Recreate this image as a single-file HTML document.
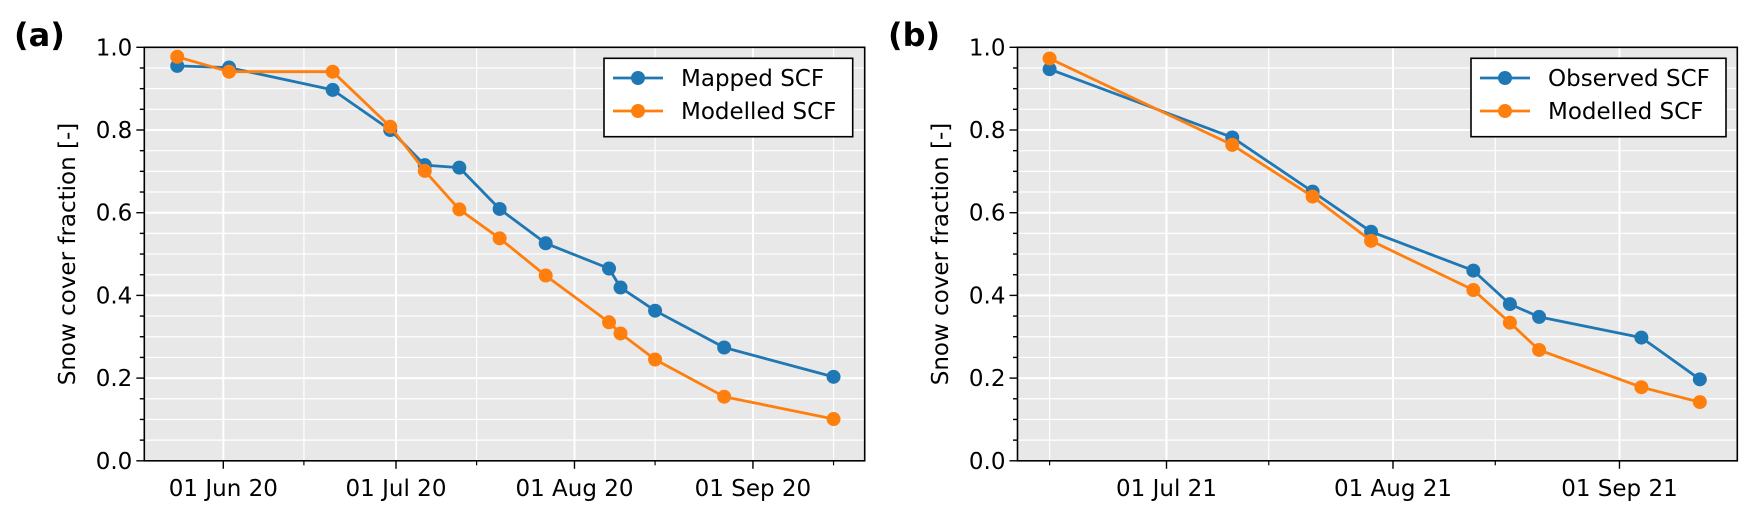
<!DOCTYPE html>
<html><head><meta charset="utf-8"><style>
body{margin:0;background:#fff;}
svg{display:block;font-family:"DejaVu Sans","Liberation Sans",sans-serif;}
</style></head><body>
<svg id="fig" width="1757" height="518" viewBox="0 0 1757 518"></svg>
<script>
// Panel (a): days relative to 01 Jun 2020
const daysA = [-8, 1, 19, 29, 35, 41, 48, 56, 67, 69, 75, 87, 106];
const mappedA = [0.955, 0.951, 0.897, 0.800, 0.715, 0.709, 0.609, 0.526, 0.465, 0.419, 0.363, 0.274, 0.203];
const modelledA = [0.977, 0.941, 0.941, 0.808, 0.701, 0.608, 0.538, 0.448, 0.335, 0.308, 0.245, 0.155, 0.101];
const majorTicksA = [0, 30, 61, 92];
const majorLabelsA = ["01 Jun 20", "01 Jul 20", "01 Aug 20", "01 Sep 20"];
const minorTicksA = [14, 44, 75, 106];
// Panel (b): days relative to 01 Jul 2021
const daysB = [-16, 9, 20, 28, 42, 47, 51, 65, 73];
const observedB = [0.947, 0.782, 0.651, 0.554, 0.460, 0.379, 0.348, 0.298, 0.197];
const modelledB = [0.973, 0.764, 0.639, 0.532, 0.413, 0.334, 0.268, 0.178, 0.142];
const majorTicksB = [0, 31, 62];
const majorLabelsB = ["01 Jul 21", "01 Aug 21", "01 Sep 21"];
const minorTicksB = [-16, 14, 45];
const yTicks = [0.0, 0.2, 0.4, 0.6, 0.8, 1.0];

const NS = "http://www.w3.org/2000/svg";
const svg = document.getElementById("fig");
function mk(tag, attrs, parent){const e=document.createElementNS(NS,tag);for(const k in attrs)e.setAttribute(k,attrs[k]);(parent||svg).appendChild(e);return e;}
const BLUE="#1f77b4", ORANGE="#ff7f0e";
const FS=23;
const yTop=47.3, yBot=460.8;
function yS(v){return yBot-(yBot-yTop)*v;}

function panel(cfg){
  const g=mk("g",{});
  
  
  const xS=d=>cfg.x0+d*cfg.ppd;
  const bg=mk("rect",{x:cfg.left,y:yTop,width:cfg.right-cfg.left,height:yBot-yTop,fill:"#e8e8e8"},g);
  
  
  for(let i=1;i<20;i++){
    const v=i*0.05, y=yS(v), major=(i%4===0);
    const l=mk("line",{x1:cfg.left,x2:cfg.right,y1:y,y2:y,stroke:"#fff","stroke-width":major?2:1.2},g);
    
    
  }
  cfg.major.forEach(d=>{const x=xS(d);const l=mk("line",{x1:x,x2:x,y1:yTop,y2:yBot,stroke:"#fff","stroke-width":2},g);
    
    });
  cfg.minor.forEach(d=>{const x=xS(d);const l=mk("line",{x1:x,x2:x,y1:yTop,y2:yBot,stroke:"#fff","stroke-width":1.2},g);
    
    });
  cfg.series.forEach(s=>{
    const sg=mk("g",{},g);
    
    
    const pts=cfg.days.map((d,i)=>xS(d).toFixed(1)+","+yS(s.vals[i]).toFixed(1)).join(" ");
    const pl=mk("polyline",{points:pts,fill:"none",stroke:s.color,"stroke-width":2.8,"stroke-linejoin":"round"},sg);
    
    
    cfg.days.forEach((d,i)=>{
      const c=mk("circle",{cx:xS(d),cy:yS(s.vals[i]),r:7,fill:s.color},sg);
      
      
    });
  });
  const sp=mk("rect",{x:cfg.left,y:yTop,width:cfg.right-cfg.left,height:yBot-yTop,fill:"none",stroke:"#000","stroke-width":1.6},g);
  
  
  for(let i=0;i<=20;i++){
    const v=i*0.05,y=yS(v),maj=(i%4===0);
    mk("line",{x1:cfg.left-(maj?8:4.5),x2:cfg.left,y1:y,y2:y,stroke:"#000","stroke-width":1.4},g);
  }
  yTicks.forEach(v=>{
    const t=mk("text",{x:cfg.left-12,y:yS(v)+8,"text-anchor":"end","font-size":FS,fill:"#000"},g);
    t.textContent=v.toFixed(1);
    
    
  });
  cfg.major.forEach((d,i)=>{
    const x=xS(d);
    mk("line",{x1:x,x2:x,y1:yBot,y2:yBot+8,stroke:"#000","stroke-width":1.4},g);
    const t=mk("text",{x:x,y:496,"text-anchor":"middle","font-size":FS,fill:"#000"},g);
    t.textContent=cfg.labels[i];
    
    
  });
  cfg.minor.forEach(d=>{const x=xS(d);mk("line",{x1:x,x2:x,y1:yBot,y2:yBot+4.5,stroke:"#000","stroke-width":1.2},g);});
  const yl=mk("text",{x:0,y:0,transform:`translate(${cfg.ylabX},254) rotate(-90)`,"text-anchor":"middle","font-size":FS,fill:"#000"},g);
  yl.textContent="Snow cover fraction [-]";
  
  
  const pt=mk("text",{x:cfg.plX,y:46,"font-size":32,"font-weight":"bold",fill:"#000"},g);
  pt.textContent=cfg.plabel;
  
  
  const lg=mk("g",{},g);
  
  
  mk("rect",{x:cfg.legX,y:58.3,width:cfg.legW,height:78.4,fill:"#fff",stroke:"#000","stroke-width":1.6},lg);
  cfg.series.forEach((s,i)=>{
    const y=78+i*33;
    const e=mk("g",{},lg);
    
    
    mk("line",{x1:cfg.legX+9,x2:cfg.legX+59,y1:y,y2:y,stroke:s.color,"stroke-width":2.8},e);
    mk("circle",{cx:cfg.legX+34,cy:y,r:7,fill:s.color},e);
    const t=mk("text",{x:cfg.legX+77,y:y+8,"font-size":FS,fill:"#000"},e);
    t.textContent=s.label;
  });
}

panel({name:"panel-a",left:144.3,right:864.7,x0:223.3,ppd:5.757,days:daysA,
  major:majorTicksA,labels:majorLabelsA,minor:minorTicksA,ylabX:75,plX:14,plabel:"(a)",
  legX:604,legW:248.7,
  series:[{name:"mapped-scf",label:"Mapped SCF",color:BLUE,vals:mappedA},
          {name:"modelled-scf-a",label:"Modelled SCF",color:ORANGE,vals:modelledA}]});
panel({name:"panel-b",left:1017.5,right:1737.3,x0:1166.5,ppd:7.306,days:daysB,
  major:majorTicksB,labels:majorLabelsB,minor:minorTicksB,ylabX:948,plX:888,plabel:"(b)",
  legX:1471,legW:255,
  series:[{name:"observed-scf",label:"Observed SCF",color:BLUE,vals:observedB},
          {name:"modelled-scf-b",label:"Modelled SCF",color:ORANGE,vals:modelledB}]});
</script>
</body></html>
